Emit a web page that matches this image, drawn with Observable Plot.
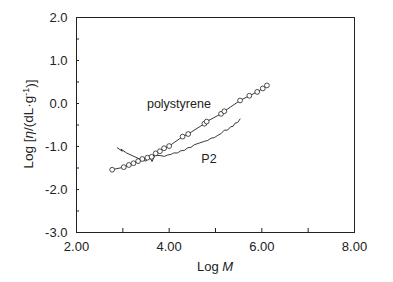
<!DOCTYPE html>
<html>
<head>
<meta charset="utf-8">
<script src="https://cdn.jsdelivr.net/npm/d3@7"></script>
<script src="https://cdn.jsdelivr.net/npm/@observablehq/plot@0.6"></script>
<style>
  html, body { margin: 0; padding: 0; background: #fff; }
  svg { display: block; }
</style>
</head>
<body>
<div id="chart"></div>
<script>
// Polystyrene reference (Log M, Log [η])
const psLogM = [2.77, 3.02, 3.13, 3.23, 3.33, 3.42, 3.53, 3.62, 3.71, 3.80, 3.89, 4.00, 4.29, 4.41, 4.76, 4.81, 5.12, 5.19, 5.53, 5.73, 5.90, 6.02, 6.11];
const psLogEta = [-1.54, -1.48, -1.43, -1.39, -1.34, -1.29, -1.26, -1.24, -1.16, -1.11, -1.04, -0.99, -0.77, -0.71, -0.47, -0.42, -0.24, -0.18, 0.07, 0.18, 0.27, 0.35, 0.42];

// P2 trace (Log M, Log [η])
const p2LogM = [2.88, 2.99, 2.96, 3.08, 3.22, 3.38, 3.50, 3.57, 3.63, 3.69, 3.80, 3.90, 3.96, 4.05, 4.10, 4.18, 4.25, 4.33, 4.40, 4.47, 4.54, 4.65, 4.76, 4.83, 4.90, 4.98, 5.05, 5.12, 5.19, 5.26, 5.33, 5.38, 5.42, 5.48, 5.53];
const p2LogEta = [-1.03, -1.11, -1.06, -1.15, -1.22, -1.30, -1.34, -1.23, -1.35, -1.21, -1.21, -1.23, -1.20, -1.18, -1.15, -1.15, -1.10, -1.09, -1.03, -1.02, -0.96, -0.92, -0.88, -0.86, -0.81, -0.79, -0.74, -0.70, -0.62, -0.62, -0.54, -0.53, -0.46, -0.44, -0.36];

// Axis ticks
const xMajor = [2, 4, 6, 8];
const xTicks = [2, 3, 4, 5, 6, 7, 8];
const yMajor = [-3, -2, -1, 0, 1, 2];
const yTicks = [-3, -2.5, -2, -1.5, -1, -0.5, 0, 0.5, 1, 1.5, 2];

// Labels
const seriesLabels = [
  {text: "polystyrene", x: 4.21, y: 0.0},
  {text: "P2", x: 4.86, y: -1.29}
];

const ps = psLogM.map((x, i) => ({x, y: psLogEta[i]}));
const p2 = p2LogM.map((x, i) => ({x, y: p2LogEta[i]}));

const ink = "#222";
const font = "'Liberation Sans', Arial, sans-serif";

const plot = Plot.plot({
  width: 393,
  height: 282,
  marginLeft: 76,
  marginRight: 39,
  marginTop: 17,
  marginBottom: 50,
  style: {fontFamily: font, fontSize: "13px", color: ink, background: "#fff"},
  x: {domain: [2, 8], label: null},
  y: {domain: [-3, 2], label: null},
  marks: [
    Plot.frame({stroke: ink, strokeWidth: 1}),
    // inward ticks
    Plot.axisX({ticks: xTicks, tickSize: 4, dy: -4, tickFormat: () => "", stroke: ink}),
    Plot.axisY({ticks: yTicks, tickSize: 3, dx: 3, tickFormat: () => "", stroke: ink}),
    // tick labels
    Plot.axisX({ticks: xMajor, tickSize: 0, tickPadding: 9, tickFormat: d => d.toFixed(2), fill: ink}),
    Plot.axisY({ticks: yMajor, tickSize: 0, tickPadding: 9, tickFormat: d => d.toFixed(1), fill: ink}),
    // data
    Plot.line(p2, {x: "x", y: "y", stroke: ink, strokeWidth: 0.9}),
    Plot.line(ps, {x: "x", y: "y", stroke: ink, strokeWidth: 0.9}),
    Plot.dot(ps, {x: "x", y: "y", r: 2.4, stroke: ink, strokeWidth: 0.8, fill: "#fff"}),
    Plot.text(seriesLabels, {x: "x", y: "y", text: "text", fill: ink, fontSize: 12.5})
  ]
});

// Axis titles with mixed styling
const svg = d3.select(plot);
const xt = svg.append("text")
  .attr("x", 215).attr("y", 271)
  .attr("text-anchor", "middle")
  .attr("fill", ink)
  .style("font-family", font).style("font-size", "13px");
xt.append("tspan").text("Log ");
xt.append("tspan").attr("font-style", "italic").text("M");

const yt = svg.append("text")
  .attr("transform", "translate(33,124) rotate(-90)")
  .attr("text-anchor", "middle")
  .attr("fill", ink)
  .style("font-family", font).style("font-size", "13.5px");
yt.append("tspan").text("Log [");
yt.append("tspan").attr("font-style", "italic").text("η");
yt.append("tspan").text("/(dL·g");
yt.append("tspan").attr("dy", "-0.4em").style("font-size", "9px").text("-1");
yt.append("tspan").attr("dy", "0.4em").text(")]");

document.getElementById("chart").appendChild(plot);
</script>
</body>
</html>
